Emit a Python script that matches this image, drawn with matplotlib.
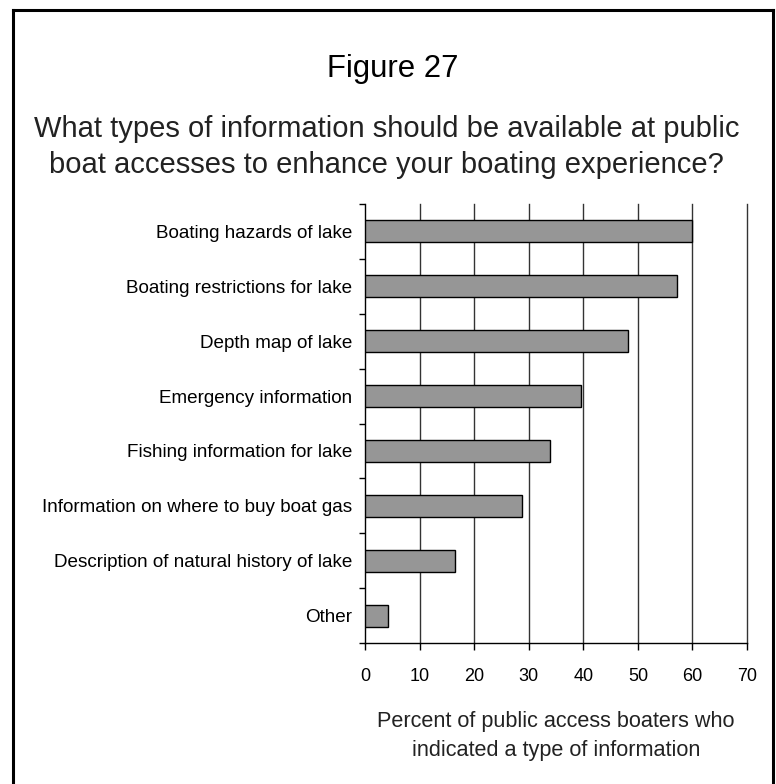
import numpy as np
import matplotlib
matplotlib.use("Agg")
import matplotlib.pyplot as plt
from matplotlib.lines import Line2D

plt.rcParams['font.family'] = ['Liberation Sans', 'DejaVu Sans']

# survey answers, top to bottom
categories = [
    "Boating hazards of lake",
    "Boating restrictions for lake",
    "Depth map of lake",
    "Emergency information",
    "Fishing information for lake",
    "Information on where to buy boat gas",
    "Description of natural history of lake",
    "Other",
]
percents = [60.0, 57.1, 48.1, 39.5, 33.9, 28.8, 16.4, 4.3]
xticks = [0, 10, 20, 30, 40, 50, 60, 70]

fig = plt.figure(figsize=(7.76, 7.84), dpi=100)
ax = fig.add_axes([0.4704, 0.1798, 0.4923, 0.5600])

ypos = np.arange(len(categories))
ax.barh(ypos, percents, height=0.4, color="#969696", edgecolor="black",
        linewidth=1.0, zorder=3)

ax.set_xlim(0, 70)
ax.set_ylim(len(categories) - 0.5, -0.5)

# vertical grid, including the line at 70
for x in xticks[1:]:
    ax.axvline(x, color="#333333", linewidth=1.0, zorder=1, clip_on=False)

ax.set_xticks(xticks)
ax.set_xticklabels([str(t) for t in xticks], fontsize=13)
ax.tick_params(axis="x", direction="out", length=5, width=1, pad=13)

# y ticks sit between the categories, labels sit in the middle
ax.set_yticks(np.arange(-0.5, len(categories), 1.0))
ax.set_yticklabels([])
ax.set_yticks(ypos, minor=True)
ax.set_yticklabels(categories, minor=True, fontsize=13.6)
ax.tick_params(axis="y", which="major", direction="out", length=4, width=1)
ax.tick_params(axis="y", which="minor", length=0, pad=9)

for side in ("top", "right"):
    ax.spines[side].set_visible(False)
for side in ("left", "bottom"):
    ax.spines[side].set_linewidth(1.0)

ax.set_xlabel("Percent of public access boaters who\nindicated a type of information",
              fontsize=15.6, labelpad=19, color="#222222", linespacing=1.5)

fig.text(0.5055, 0.912, "Figure 27", ha="center", va="center", fontsize=22.4)
fig.text(0.4985, 0.8125,
         "What types of information should be available at public\n"
         "boat accesses to enhance your boating experience?",
         ha="center", va="center", fontsize=21, color="#222222", linespacing=1.38)

# frame around the whole figure
fx0, fx1 = 13 / 776, 773 / 776
fy1 = 1 - 10 / 784
for xs, ys in [([fx0, fx0], [-0.01, fy1]), ([fx0, fx1], [fy1, fy1]),
               ([fx1, fx1], [fy1, -0.01])]:
    fig.add_artist(Line2D(xs, ys, transform=fig.transFigure, color="black",
                          linewidth=2.2))

fig.savefig("out.png", dpi=100)
